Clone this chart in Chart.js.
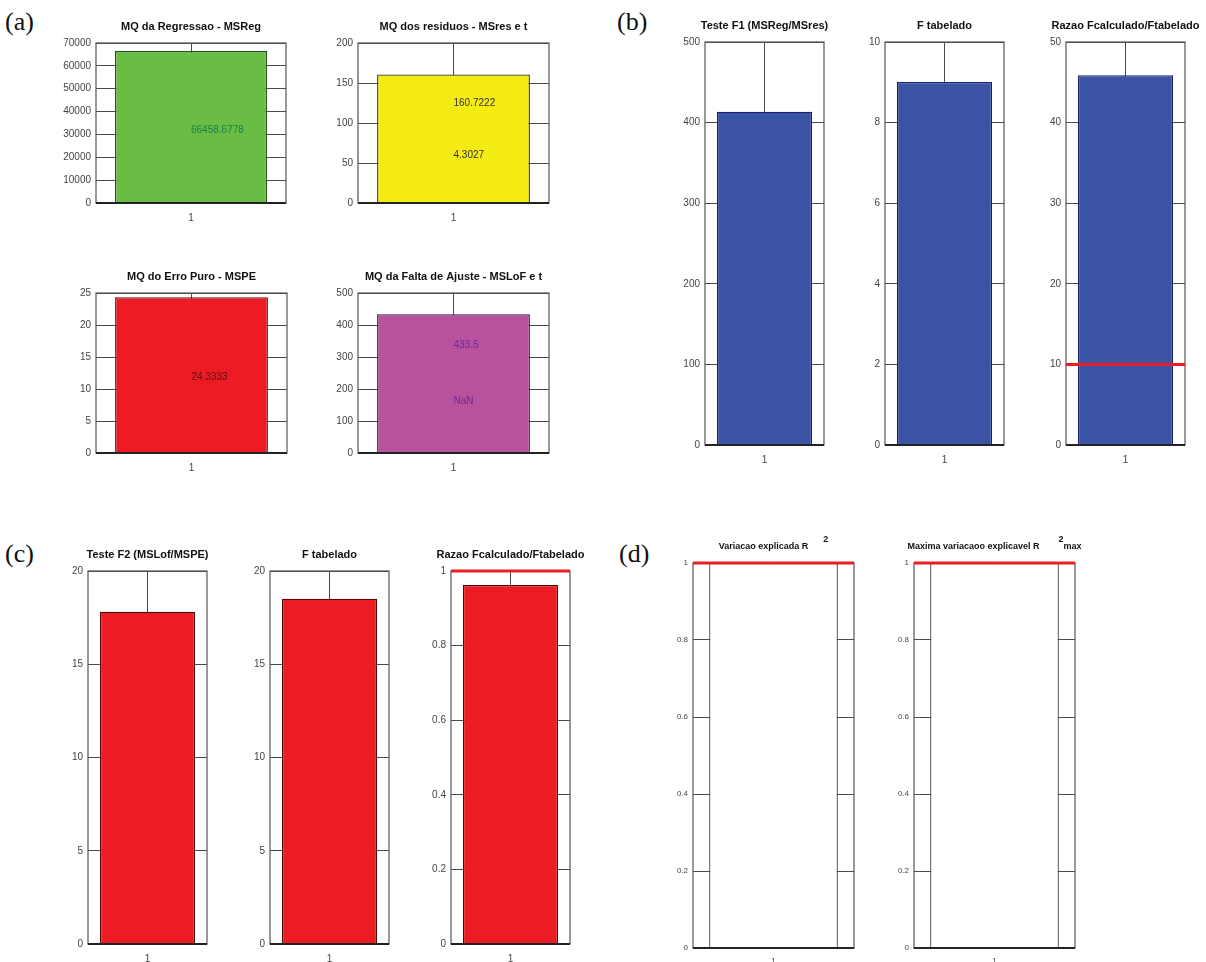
<!DOCTYPE html>
<html lang="pt">
<head>
  <meta charset="UTF-8" />
  <title>ANOVA da regressao</title>
  <script src="https://cdn.jsdelivr.net/npm/chart.js"></script>
  <style>
    body {
      margin: 0;
      background: #ffffff;
    }
    #page {
      position: relative;
      width: 1206px;
      height: 962px;
      overflow: hidden;
      background: #ffffff;
    }
    #page canvas {
      position: absolute;
    }
    .panel-label {
      position: absolute;
      font-family: 'Liberation Serif', 'DejaVu Serif', serif;
      font-size: 26px;
      color: #111;
      line-height: 1;
    }
  </style>
</head>
<body>
  <div id="page">
    <div class="panel-label" style="left:5px; top:9px;">(a)</div>
    <div class="panel-label" style="left:617px; top:9px;">(b)</div>
    <div class="panel-label" style="left:5px; top:541px;">(c)</div>
    <div class="panel-label" style="left:619px; top:541px;">(d)</div>
  </div>

  <script>
    // one category per subplot
    const catLabels = ['1'];

    // (a) quadrados medios
    const msregValues = [66458.6778];
    const msresValues = [160.7222];
    const mspeValues = [24.3333];
    const mslofValues = [433.5];

    const msregTexts = ['66458.6778'];
    const msresTexts = ['160.7222', '4.3027'];
    const mspeTexts = ['24.3333'];
    const mslofTexts = ['433.5', 'NaN'];

    // (b) teste F1
    const f1Values = [413.5];
    const f1TabValues = [9.01];
    const f1RatioValues = [45.89];
    const f1RatioRef = 10;

    // (c) teste F2
    const f2Values = [17.815];
    const f2TabValues = [18.51];
    const f2RatioValues = [0.9625];
    const f2RatioRef = 1;

    // (d) R2
    const r2Values = [1];
    const r2maxValues = [1];
    const r2Ref = 1;

    // y axis ranges [max, step]
    const axisA = [[70000, 10000], [200, 50], [25, 5], [500, 100]];
    const axisB = [[500, 100], [10, 2], [50, 10]];
    const axisC = [[20, 5], [20, 5], [1, 0.2]];
    const axisD = [[1, 0.2], [1, 0.2]];

    const page = document.getElementById('page');
    const gridColor = '#4a4a4a';
    const tickColor = '#444';

    const decorPlugin = {
      id: 'decor',
      afterDatasetsDraw(chart, args, o) {
        const { ctx, chartArea: a, scales } = chart;
        ctx.save();
        // axes box
        ctx.strokeStyle = '#555';
        ctx.lineWidth = 1.2;
        ctx.strokeRect(a.left, a.top, a.right - a.left, a.bottom - a.top);
        ctx.strokeStyle = '#222';
        ctx.lineWidth = 2;
        ctx.beginPath();
        ctx.moveTo(a.left, a.bottom);
        ctx.lineTo(a.right, a.bottom);
        ctx.stroke();

        // reference line
        if (o.ref !== undefined) {
          const y = scales.y.getPixelForValue(o.ref);
          ctx.strokeStyle = '#ee1c25';
          ctx.lineWidth = 3;
          ctx.beginPath();
          ctx.moveTo(a.left, y);
          ctx.lineTo(a.right, y);
          ctx.stroke();
        }

        // value texts inside bar
        if (o.texts) {
          const x = scales.x.getPixelForValue(0);
          ctx.font = '10px "Liberation Sans", Arial, sans-serif';
          ctx.fillStyle = o.textColor;
          ctx.textAlign = 'left';
          ctx.textBaseline = 'middle';
          o.texts.forEach((t, i) => {
            ctx.fillText(t, x, scales.y.getPixelForValue(o.textAt[i]));
          });
        }

        // title
        const cx = (a.left + a.right) / 2;
        const ty = a.top - 16;
        ctx.fillStyle = '#111';
        ctx.textBaseline = 'middle';
        ctx.font = 'bold ' + o.titleSize + 'px "Liberation Sans", Arial, sans-serif';
        if (o.sup) {
          const wMain = ctx.measureText(o.title).width;
          const wSup = ctx.measureText(o.sup).width;
          const wAfter = o.after ? ctx.measureText(o.after).width : 0;
          const gap = o.after ? 19 : 15;
          let x0 = cx - (wMain + gap + wSup + wAfter) / 2;
          ctx.textAlign = 'left';
          ctx.fillText(o.title, x0, ty);
          ctx.fillText(o.sup, x0 + wMain + gap, ty - 7);
          if (o.after) ctx.fillText(o.after, x0 + wMain + gap + wSup, ty);
        } else {
          ctx.textAlign = 'center';
          ctx.fillText(o.title, cx, ty);
        }
        ctx.restore();
      }
    };

    function makeBar(cfg) {
      const L = 50, T = 40, R = 45, B = 26;
      const box = cfg.box;
      const fontSize = cfg.small ? 8 : 10;
      const canvas = document.createElement('canvas');
      canvas.width = box.r - box.l + L + R;
      canvas.height = box.b - box.t + T + B;
      canvas.style.left = (box.l - L) + 'px';
      canvas.style.top = (box.t - T) + 'px';
      page.appendChild(canvas);

      new Chart(canvas, {
        type: 'bar',
        data: {
          labels: catLabels,
          datasets: [{
            data: cfg.values,
            backgroundColor: cfg.color,
            borderColor: cfg.edge,
            borderWidth: 1.3,
            barPercentage: 0.8,
            categoryPercentage: 1
          }]
        },
        options: {
          responsive: false,
          animation: false,
          devicePixelRatio: 1,
          layout: { padding: { top: T, right: R, left: 0, bottom: 0 } },
          plugins: {
            legend: { display: false },
            tooltip: { enabled: false },
            decor: {
              title: cfg.title,
              titleSize: cfg.small ? 9 : 11,
              sup: cfg.sup,
              after: cfg.after,
              ref: cfg.ref,
              texts: cfg.texts,
              textAt: cfg.textAt,
              textColor: cfg.textColor
            }
          },
          scales: {
            x: {
              grid: { offset: false, color: gridColor, lineWidth: 1, drawTicks: false },
              border: { display: false },
              ticks: {
                padding: cfg.small ? 8 : 9,
                color: tickColor,
                font: { family: '"Liberation Sans", Arial, sans-serif', size: fontSize }
              },
              afterFit: s => { s.height = B; }
            },
            y: {
              min: 0,
              max: cfg.axis[0],
              grid: { color: gridColor, lineWidth: 1, drawTicks: false },
              border: { display: false },
              ticks: {
                stepSize: cfg.axis[1],
                padding: 5,
                color: tickColor,
                font: { family: '"Liberation Sans", Arial, sans-serif', size: fontSize },
                callback: v => String(+v.toFixed(3))
              },
              afterFit: s => { s.width = L; }
            }
          }
        },
        plugins: [decorPlugin]
      });
    }

    // (a)
    makeBar({ box: { l: 96, t: 43, r: 286, b: 203 }, values: msregValues, axis: axisA[0],
      color: '#69bd45', edge: '#1f5a16', title: 'MQ da Regressao - MSReg',
      texts: msregTexts, textAt: [31900], textColor: '#17804a' });
    makeBar({ box: { l: 358, t: 43, r: 549, b: 203 }, values: msresValues, axis: axisA[1],
      color: '#f4ea14', edge: '#333300', title: 'MQ dos residuos - MSres e t',
      texts: msresTexts, textAt: [125, 60], textColor: '#333' });
    makeBar({ box: { l: 96, t: 293, r: 287, b: 453 }, values: mspeValues, axis: axisA[2],
      color: '#ed1c24', edge: '#5a0a0a', title: 'MQ do Erro Puro - MSPE',
      texts: mspeTexts, textAt: [11.9], textColor: '#5a1212' });
    makeBar({ box: { l: 358, t: 293, r: 549, b: 453 }, values: mslofValues, axis: axisA[3],
      color: '#b8529e', edge: '#3a0a3a', title: 'MQ da Falta de Ajuste - MSLoF e t',
      texts: mslofTexts, textAt: [337.5, 162.5], textColor: '#6a2a9a' });

    // (b)
    makeBar({ box: { l: 705, t: 42, r: 824, b: 445 }, values: f1Values, axis: axisB[0],
      color: '#3a53a4', edge: '#1a1f6b', title: 'Teste F1 (MSReg/MSres)' });
    makeBar({ box: { l: 885, t: 42, r: 1004, b: 445 }, values: f1TabValues, axis: axisB[1],
      color: '#3a53a4', edge: '#1a1f6b', title: 'F tabelado' });
    makeBar({ box: { l: 1066, t: 42, r: 1185, b: 445 }, values: f1RatioValues, axis: axisB[2],
      color: '#3a53a4', edge: '#1a1f6b', title: 'Razao Fcalculado/Ftabelado', ref: f1RatioRef });

    // (c)
    makeBar({ box: { l: 88, t: 571, r: 207, b: 944 }, values: f2Values, axis: axisC[0],
      color: '#ed1c24', edge: '#4a0a0a', title: 'Teste F2 (MSLof/MSPE)' });
    makeBar({ box: { l: 270, t: 571, r: 389, b: 944 }, values: f2TabValues, axis: axisC[1],
      color: '#ed1c24', edge: '#4a0a0a', title: 'F tabelado' });
    makeBar({ box: { l: 451, t: 571, r: 570, b: 944 }, values: f2RatioValues, axis: axisC[2],
      color: '#ed1c24', edge: '#4a0a0a', title: 'Razao Fcalculado/Ftabelado', ref: f2RatioRef });

    // (d)
    makeBar({ box: { l: 693, t: 563, r: 854, b: 948 }, values: r2Values, axis: axisD[0], small: true,
      color: '#ffffff', edge: '#555', title: 'Variacao explicada R', sup: '2', ref: r2Ref });
    makeBar({ box: { l: 914, t: 563, r: 1075, b: 948 }, values: r2maxValues, axis: axisD[1], small: true,
      color: '#ffffff', edge: '#555', title: 'Maxima variacaoo explicavel R', sup: '2', after: 'max', ref: r2Ref });
  </script>
</body>
</html>
